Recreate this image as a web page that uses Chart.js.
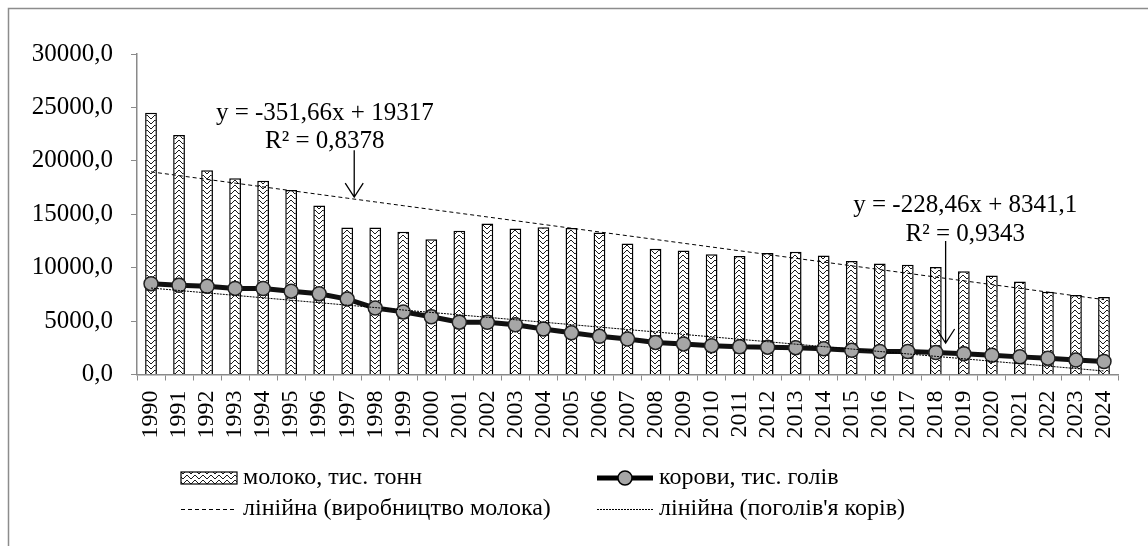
<!DOCTYPE html>
<html>
<head>
<meta charset="utf-8">
<script src="https://cdn.jsdelivr.net/npm/chart.js@4.4.1/dist/chart.umd.min.js"></script>
<style>
  html, body { margin: 0; padding: 0; background: #fff; }
  #wrap { position: relative; width: 1148px; height: 546px; }
</style>
</head>
<body>
<div id="wrap"><canvas id="chart" width="1148" height="546"></canvas></div>
<script>
// data
const years = ["1990", "1991", "1992", "1993", "1994", "1995", "1996", "1997", "1998", "1999",
  "2000", "2001", "2002", "2003", "2004", "2005", "2006", "2007", "2008", "2009",
  "2010", "2011", "2012", "2013", "2014", "2015", "2016", "2017", "2018", "2019",
  "2020", "2021", "2022", "2023", "2024"];
const milk = [24508, 22409, 19114, 18376, 18138, 17274, 15821, 13768, 13753, 13362,
  12658, 13444, 14142, 13661, 13787, 13714, 13287, 12262, 11761, 11610,
  11249, 11086, 11378, 11488, 11133, 10615, 10382, 10281, 10064, 9663,
  9264, 8713, 7754, 7440, 7250];
const cows = [8500, 8350, 8250, 8060, 8050, 7800, 7560, 7060, 6220, 5860,
  5400, 4900, 4880, 4660, 4260, 3900, 3570, 3320, 3000, 2860,
  2700, 2600, 2560, 2510, 2400, 2260, 2160, 2150, 2060, 1950,
  1800, 1650, 1530, 1350, 1220];
const yTicks = [0, 5000, 10000, 15000, 20000, 25000, 30000];

const milkLabel = "молоко, тис. тонн";
const cowsLabel = "корови, тис. голів";
const milkTrendLabel = "лінійна (виробництво молока)";
const cowsTrendLabel = "лінійна (поголів'я корів)";
const milkEquation = ["y = -351,66x + 19317", "R² = 0,8378"];
const cowsEquation = ["y = -228,46x + 8341,1", "R² = 0,9343"];

// least squares trend, x = 1..n like Excel
function linearTrend(values) {
  const n = values.length;
  let sx = 0, sy = 0, sxy = 0, sxx = 0;
  values.forEach((v, i) => {
    const x = i + 1;
    sx += x; sy += v; sxy += x * v; sxx += x * x;
  });
  const slope = (n * sxy - sx * sy) / (n * sxx - sx * sx);
  const intercept = (sy - slope * sx) / n;
  return values.map((v, i) => intercept + slope * (i + 1));
}

function wavePattern() {
  const c = document.createElement("canvas");
  c.width = 8;
  c.height = 5;
  const g = c.getContext("2d");
  g.fillStyle = "#fff";
  g.fillRect(0, 0, 8, 5);
  g.fillStyle = "#1a1a1a";
  const ys = [2, 1, 0, 0, 1, 2, 3, 3];
  ys.forEach((y, x) => g.fillRect(x, y, 1, 1));
  return g.createPattern(c, "repeat");
}

const ctx = document.getElementById("chart").getContext("2d");
const pattern = wavePattern();
const serif = "'Liberation Serif', 'Times New Roman', serif";
const axisGray = "#8a8a8a";

Chart.defaults.font.family = serif;
Chart.defaults.color = "#000";

// outer frame (cut off on right and bottom)
const framePlugin = {
  id: "frame",
  beforeDraw(chart) {
    const c = chart.ctx;
    c.save();
    c.fillStyle = "#fff";
    c.fillRect(0, 0, chart.width, chart.height);
    c.strokeStyle = "#8c8c8c";
    c.lineWidth = 1.5;
    c.beginPath();
    c.moveTo(8.5, chart.height);
    c.lineTo(8.5, 8.5);
    c.lineTo(chart.width, 8.5);
    c.stroke();
    c.restore();
  },
};

function arrow(c, x, y1, y2) {
  c.beginPath();
  c.moveTo(x, y1);
  c.lineTo(x, y2);
  c.moveTo(x - 9, y2 - 14);
  c.lineTo(x, y2);
  c.lineTo(x + 9, y2 - 14);
  c.stroke();
}

// trend equations with arrows
const labelsPlugin = {
  id: "trendLabels",
  afterDatasetsDraw(chart) {
    const c = chart.ctx;
    const xs = chart.scales.x;
    const ys = chart.scales.y;
    c.save();
    c.fillStyle = "#000";
    c.strokeStyle = "#000";
    c.lineWidth = 1.3;
    c.font = "25px " + serif;
    c.textAlign = "center";
    c.textBaseline = "middle";

    let cx = xs.getPixelForValue(6.2);
    c.fillText(milkEquation[0], cx, ys.getPixelForValue(24400));
    c.fillText(milkEquation[1], cx, ys.getPixelForValue(21850));
    arrow(c, xs.getPixelForValue(7.25), ys.getPixelForValue(21000), ys.getPixelForValue(16600));

    cx = xs.getPixelForValue(29.05);
    c.fillText(cowsEquation[0], cx, ys.getPixelForValue(15820));
    c.fillText(cowsEquation[1], cx, ys.getPixelForValue(13150));
    arrow(c, xs.getPixelForValue(28.35), ys.getPixelForValue(12500), ys.getPixelForValue(2950));
    c.restore();
  },
};

// legend in two rows, like the original
const legendPlugin = {
  id: "customLegend",
  afterDraw(chart) {
    const c = chart.ctx;
    const rows = [478, 509];
    const col1 = 181, col2 = 597, keyW = 56;
    c.save();
    c.font = "24px " + serif;
    c.fillStyle = "#000";
    c.textBaseline = "middle";
    c.textAlign = "left";

    // milk swatch
    c.fillStyle = pattern;
    c.fillRect(col1, rows[0] - 6, keyW, 12);
    c.strokeStyle = "#000";
    c.lineWidth = 1.2;
    c.strokeRect(col1, rows[0] - 6, keyW, 12);
    c.fillStyle = "#000";
    c.fillText(milkLabel, col1 + keyW + 6, rows[0]);

    // cows line + marker
    c.lineWidth = 5;
    c.beginPath();
    c.moveTo(col2, rows[0]);
    c.lineTo(col2 + keyW, rows[0]);
    c.stroke();
    c.beginPath();
    c.arc(col2 + keyW / 2, rows[0], 7, 0, Math.PI * 2);
    c.fillStyle = "#a6a6a6";
    c.fill();
    c.lineWidth = 1.5;
    c.stroke();
    c.fillStyle = "#000";
    c.fillText(cowsLabel, col2 + keyW + 6, rows[0]);

    // trend keys
    c.lineWidth = 1;
    c.setLineDash([4, 3]);
    c.beginPath();
    c.moveTo(col1, rows[1] + 0.5);
    c.lineTo(col1 + keyW, rows[1] + 0.5);
    c.stroke();
    c.fillText(milkTrendLabel, col1 + keyW + 6, rows[1]);
    c.setLineDash([2, 1]);
    c.beginPath();
    c.moveTo(col2, rows[1] + 0.5);
    c.lineTo(col2 + keyW, rows[1] + 0.5);
    c.stroke();
    c.fillText(cowsTrendLabel, col2 + keyW + 6, rows[1]);
    c.restore();
  },
};

const chart = new Chart(ctx, {
  type: "bar",
  data: {
    labels: years,
    datasets: [
      {
        type: "line",
        label: milkTrendLabel,
        data: linearTrend(milk),
        borderColor: "#000",
        borderWidth: 1,
        borderDash: [4, 3],
        pointRadius: 0,
        order: 1,
      },
      {
        type: "line",
        label: cowsTrendLabel,
        data: linearTrend(cows),
        borderColor: "#000",
        borderWidth: 1,
        borderDash: [2, 1],
        pointRadius: 0,
        order: 2,
      },
      {
        type: "line",
        label: cowsLabel,
        data: cows,
        borderColor: "#111",
        borderWidth: 5,
        pointRadius: 7,
        pointBackgroundColor: "#a6a6a6",
        pointBorderColor: "#222",
        pointBorderWidth: 1.5,
        order: 3,
      },
      {
        label: milkLabel,
        data: milk,
        backgroundColor: pattern,
        borderColor: "#000",
        borderWidth: 1.5,
        barPercentage: 0.42,
        categoryPercentage: 1,
        order: 4,
      },
    ],
  },
  options: {
    responsive: false,
    animation: false,
    layout: { padding: { left: 0, right: 30, top: 54, bottom: 101.5 } },
    plugins: {
      legend: { display: false },
      tooltip: { enabled: false },
    },
    scales: {
      x: {
        grid: { offset: true, drawOnChartArea: false, tickLength: 6, color: axisGray },
        border: { color: axisGray, width: 1.5 },
        ticks: { autoSkip: false, minRotation: 90, maxRotation: 90, padding: 10, font: { size: 24 } },
        afterFit(scale) { scale.height = 70; },
      },
      y: {
        min: 0,
        max: 30000,
        afterBuildTicks(scale) { scale.ticks = yTicks.map((v) => ({ value: v })); },
        grid: { drawOnChartArea: false, tickLength: 6, color: axisGray },
        border: { color: axisGray, width: 1.5 },
        ticks: {
          padding: 18,
          font: { size: 25 },
          callback: (v) => v.toFixed(1).replace(".", ","),
        },
        afterFit(scale) { scale.width = 137; },
      },
    },
  },
  plugins: [framePlugin, labelsPlugin, legendPlugin],
});
</script>
</body>
</html>
